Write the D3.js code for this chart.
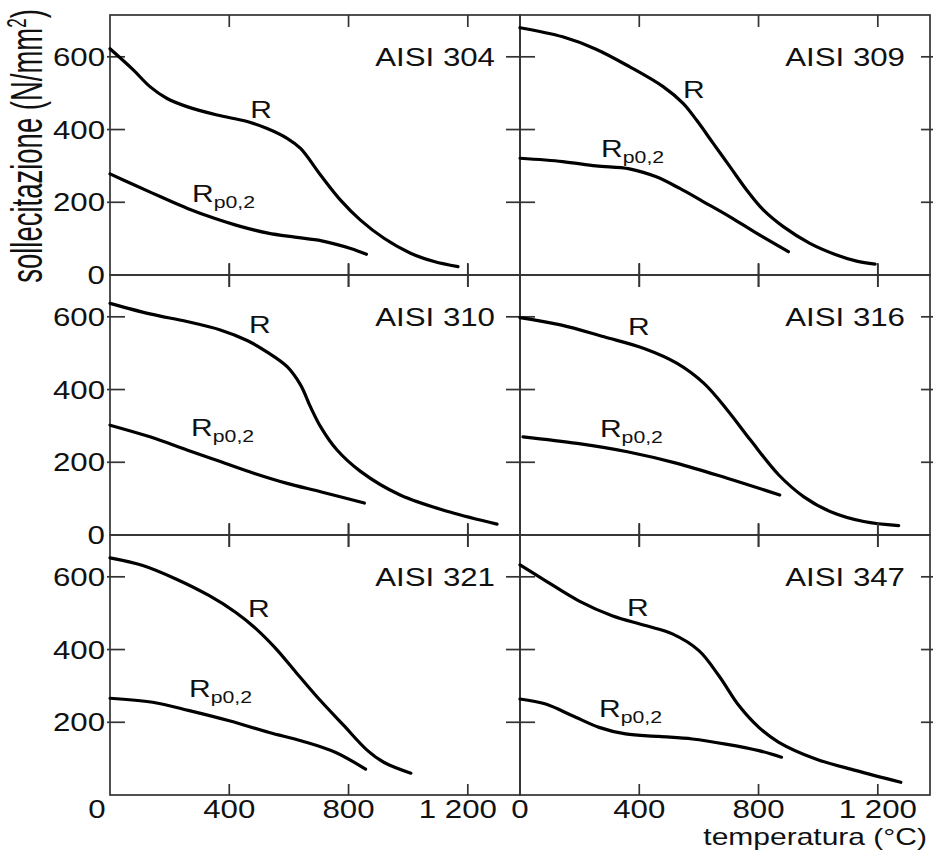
<!DOCTYPE html>
<html>
<head>
<meta charset="utf-8">
<script src="https://cdn.jsdelivr.net/npm/d3@7/dist/d3.min.js"></script>
<style>
  html, body { margin: 0; padding: 0; background: #fff; }
  svg { display: block; }
  text { font-family: "Liberation Sans", Arial, Helvetica, sans-serif; fill: #111; }
</style>
</head>
<body>
<svg id="chart" width="933" height="851"></svg>
<script>
// Steel grades, one panel each, read row by row
const grades = ["AISI 304", "AISI 309", "AISI 310", "AISI 316", "AISI 321", "AISI 347"];

// Tensile strength R: [temperature °C, stress N/mm²]
const r304 = [[0,622],[78,564],[134,518],[190,486],[258,463],[359,440],[460,422],[527,403],[594,376],[639,348],[706,275],[773,206],[840,151],[919,101],[1008,60],[1087,37],[1167,23]];
const r309 = [[0,680],[143,655],[255,621],[367,573],[480,518],[547,472],[592,426],[648,362],[704,298],[760,234],[816,179],[883,133],[972,87],[1062,55],[1129,38],[1191,30]];
const r310 = [[0,637],[134,608],[258,587],[370,564],[460,535],[527,503],[594,463],[639,413],[672,353],[706,298],[760,235],[840,175],[973,110],[1140,63],[1298,30]];
const r316 = [[0,598],[136,578],[282,545],[416,513],[527,472],[617,417],[695,344],[773,261],[868,165],[952,105],[1042,64],[1153,37],[1270,26]];
const r321 = [[0,652],[110,631],[221,594],[333,548],[422,502],[490,457],[557,402],[624,337],[691,273],[783,192],[864,122],[918,90],[1009,60]];
const r347 = [[0,633],[86,589],[197,534],[309,493],[421,466],[511,443],[600,397],[667,328],[734,246],[801,186],[868,145],[992,99],[1128,67],[1277,35]];

// 0.2 % proof stress Rp0,2: [temperature °C, stress N/mm²]
const rp304 = [[0,278],[80,248],[170,215],[260,183],[350,156],[440,133],[530,115],[620,104],[710,94],[807,73],[860,57]];
const rp309 = [[0,321],[143,312],[255,300],[367,292],[457,270],[536,238],[614,202],[704,160],[793,115],[900,64]];
const rp310 = [[0,302],[134,270],[258,234],[370,202],[482,170],[594,142],[706,119],[853,88]];
const rp316 = [[10,270],[192,252],[360,229],[527,197],[695,156],[871,110]];
const rp321 = [[0,266],[143,255],[266,232],[400,204],[534,172],[646,148],[757,117],[857,71]];
const rp347 = [[0,264],[86,250],[176,218],[265,186],[354,168],[466,161],[578,154],[690,140],[801,122],[877,104]];

// Where the curve names sit, in data units [°C, N/mm²] (left end / baseline)
const rLabelAt  = [[470,431],[547,486],[466,555],[362,549],[463,489],[359,492]];
const rpLabelAt = [[275,200],[272,324],[272,272],[268,269],[265,269],[265,214]];

// Axis ticks
const tempTicks = [0, 400, 800, 1200];
const stressTicks = [0, 200, 400, 600];

const rSeries = [r304, r309, r310, r316, r321, r347];
const rpSeries = [rp304, rp309, rp310, rp316, rp321, rp347];

// ---- layout ----
const marginLeft = 110, marginTop = 15, panelW = 410, panelH = 260;
const nCols = 2, nRows = 3;
const SX = 1.25;        // wide lettering
const frameColor = "#333";

const x = d3.scaleLinear().domain([0, 1375]).range([0, panelW]);
const y = d3.scaleLinear().domain([0, 715]).range([panelH, 0]);

const svg = d3.select("#chart");

function label(g, px, py, str, size, anchor) {
  return g.append("text")
    .attr("transform", `translate(${px},${py}) scale(${SX},1)`)
    .attr("text-anchor", anchor || "start")
    .style("font-size", size + "px")
    .text(str);
}

const line = d3.line()
  .x(d => x(d[0]))
  .y(d => y(d[1]))
  .curve(d3.curveCatmullRom.alpha(0.5));

grades.forEach((name, i) => {
  const col = i % nCols, row = Math.floor(i / nCols);
  const g = svg.append("g")
    .attr("transform", `translate(${marginLeft + col * panelW},${marginTop + row * panelH})`);

  // frame
  g.append("rect")
    .attr("x", 0).attr("y", 0).attr("width", panelW).attr("height", panelH)
    .attr("fill", "none").attr("stroke", frameColor).attr("stroke-width", 1.7);

  const ticks = g.append("g").attr("stroke", frameColor).attr("stroke-width", 1.7);
  const yt = stressTicks.filter(v => v > 0);

  // left-edge ticks: outer edge points inward, shared edge crosses
  ticks.selectAll(".tl").data(yt).join("line")
    .attr("x1", col === 0 ? -3 : -14).attr("x2", 15)
    .attr("y1", d => y(d)).attr("y2", d => y(d));
  // right-edge ticks on the outer border
  if (col === nCols - 1) {
    ticks.selectAll(".tr").data(yt).join("line")
      .attr("x1", panelW - 9).attr("x2", panelW + 3)
      .attr("y1", d => y(d)).attr("y2", d => y(d));
  }
  const xt = tempTicks.filter(v => v > 0);
  // top-edge ticks
  ticks.selectAll(".tt").data(xt).join("line")
    .attr("x1", d => x(d)).attr("x2", d => x(d))
    .attr("y1", row === 0 ? 0 : -12).attr("y2", 12);
  // bottom-edge ticks
  ticks.selectAll(".tb").data(xt).join("line")
    .attr("x1", d => x(d)).attr("x2", d => x(d))
    .attr("y1", panelH - 11).attr("y2", row === nRows - 1 ? panelH : panelH + 12);

  // curves
  [rSeries[i], rpSeries[i]].forEach(s => {
    g.append("path").datum(s)
      .attr("d", line).attr("fill", "none")
      .attr("stroke", "#000").attr("stroke-width", 3.2)
      .attr("stroke-linecap", "round").attr("stroke-linejoin", "round");
  });

  // curve names
  const rl = rLabelAt[i];
  label(g, x(rl[0]), y(rl[1]), "R", 24);
  const pl = rpLabelAt[i];
  const t = g.append("text")
    .attr("transform", `translate(${x(pl[0])},${y(pl[1])}) scale(${SX},1)`)
    .style("font-size", "24px");
  t.append("tspan").text("R");
  t.append("tspan").attr("dy", 6).style("font-size", "17px").text("p0,2");

  // grade title
  label(g, panelW - 25, y(600) + 9, name, 25, "end");

  // stress tick labels on the outer left
  if (col === 0) {
    const lab = row === nRows - 1 ? stressTicks.filter(v => v > 0) : stressTicks;
    lab.forEach(v => label(g, -5, y(v) + 9, String(v), 25, "end"));
  }

  // temperature tick labels under the bottom row
  if (row === nRows - 1) {
    tempTicks.forEach(v => {
      let dx = 0;
      if (col === 0 && v === 0) dx = -13;
      if (col === 0 && v === 1200) dx = -10;
      const s = v >= 1000 ? `${Math.floor(v / 1000)} ${String(v % 1000).padStart(3, "0")}` : String(v);
      label(g, x(v) + dx, panelH + 23, s, 25, "middle");
    });
  }
});

// axis titles
const yTitle = svg.append("text")
  .attr("transform", `translate(42,${marginTop + 131}) scale(1.6,1) rotate(-90)`)
  .attr("text-anchor", "middle")
  .style("font-size", "27.5px");
yTitle.append("tspan").text("sollecitazione (N/mm");
yTitle.append("tspan").attr("dy", -10).style("font-size", "17px").text("2");
yTitle.append("tspan").attr("dy", 10).text(")");

label(svg, 927, 845, "temperatura (°C)", 24, "end");
</script>
</body>
</html>
